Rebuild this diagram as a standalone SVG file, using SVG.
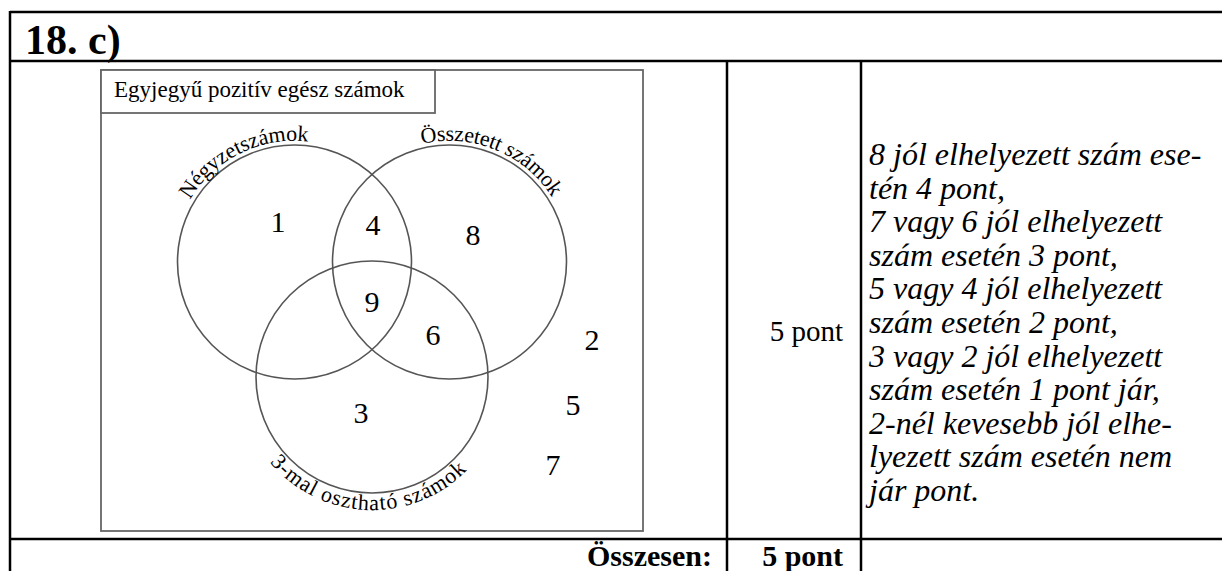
<svg xmlns="http://www.w3.org/2000/svg" width="1222" height="571" viewBox="0 0 1222 571">
<style>
.tl{stroke:#000;stroke-width:2.5;fill:none}
.box{stroke:#666;stroke-width:1.8;fill:#fff}
.circ{stroke:#555;stroke-width:1.6;fill:none}
.num{font-family:"Liberation Serif",serif;font-size:30px;fill:#000;text-anchor:middle}
.lab{font-family:"Liberation Serif",serif;font-size:22px;fill:#000}
.it{font-family:"Liberation Serif",serif;font-size:32px;font-style:italic;fill:#000}
.reg{font-family:"Liberation Serif",serif;font-size:29px;fill:#000}
.bold{font-family:"Liberation Serif",serif;font-size:30px;font-weight:bold;fill:#000}
</style>
<defs>
<path id="pL" d="M 174.8 241 A 121 121 0 0 1 413.2 241"/>
<path id="pR" d="M 330.3 241 A 121 121 0 0 1 568.7 241"/>
<path id="pB" d="M 247 422.5 A 133 133 0 0 0 497 422.5"/>
</defs>
<g id="table">
<line class="tl" x1="10" y1="12" x2="1222" y2="12"/>
<line class="tl" x1="10" y1="11" x2="10" y2="571"/>
<line class="tl" x1="10" y1="61" x2="1222" y2="61"/>
<line class="tl" x1="727" y1="61" x2="727" y2="571"/>
<line class="tl" x1="861" y1="61" x2="861" y2="571"/>
<line class="tl" x1="10" y1="539" x2="1222" y2="539"/>
<text x="25" y="54" font-family="Liberation Serif,serif" font-size="42" font-weight="bold">18. c)</text>
</g>
<g id="venn-frame">
<rect class="box" x="101" y="70" width="542" height="461"/>
<rect class="box" x="101" y="70" width="334" height="43"/>
<text x="114" y="97" font-family="Liberation Serif,serif" font-size="23">Egyjegyű pozitív egész számok</text>
</g>
<g id="circles">
<circle id="c-negyzet" class="circ" cx="294.5" cy="262" r="117"/>
<circle id="c-osszetett" class="circ" cx="449.5" cy="262" r="117"/>
<circle id="c-harom" class="circ" cx="372" cy="377" r="116"/>
</g>
<g id="labels">
<text class="lab"><textPath href="#pL" startOffset="44" textLength="139" lengthAdjust="spacing">Négyzetszámok</textPath></text>
<text class="lab"><textPath href="#pR" startOffset="141" textLength="150" lengthAdjust="spacing">Összetett számok</textPath></text>
<text class="lab"><textPath href="#pB" startOffset="46" textLength="222" lengthAdjust="spacing">3-mal osztható számok</textPath></text>
</g>
<g id="numbers">
<text class="num" x="278" y="232">1</text>
<text class="num" x="373" y="235">4</text>
<text class="num" x="473" y="245">8</text>
<text class="num" x="372" y="312">9</text>
<text class="num" x="433" y="345">6</text>
<text class="num" x="592" y="350">2</text>
<text class="num" x="573" y="415">5</text>
<text class="num" x="553" y="475">7</text>
<text class="num" x="361" y="423">3</text>
</g>
<g id="score">
<text class="reg" x="843" y="341" text-anchor="end">5 pont</text>
</g>
<g id="notes" class="it">
<text x="869" y="165">8 jól elhelyezett szám ese-</text>
<text x="869" y="198.6">tén 4 pont,</text>
<text x="869" y="232.2">7 vagy 6 jól elhelyezett</text>
<text x="869" y="265.8">szám esetén 3 pont,</text>
<text x="869" y="299.4">5 vagy 4 jól elhelyezett</text>
<text x="869" y="333">szám esetén 2 pont,</text>
<text x="869" y="366.6">3 vagy 2 jól elhelyezett</text>
<text x="869" y="400.2">szám esetén 1 pont jár,</text>
<text x="869" y="433.8">2-nél kevesebb jól elhe-</text>
<text x="869" y="467.4">lyezett szám esetén nem</text>
<text x="869" y="501">jár pont.</text>
</g>
<g id="total">
<text class="bold" x="712" y="566" text-anchor="end">Összesen:</text>
<text class="bold" x="843" y="566" text-anchor="end">5 pont</text>
</g>
</svg>
